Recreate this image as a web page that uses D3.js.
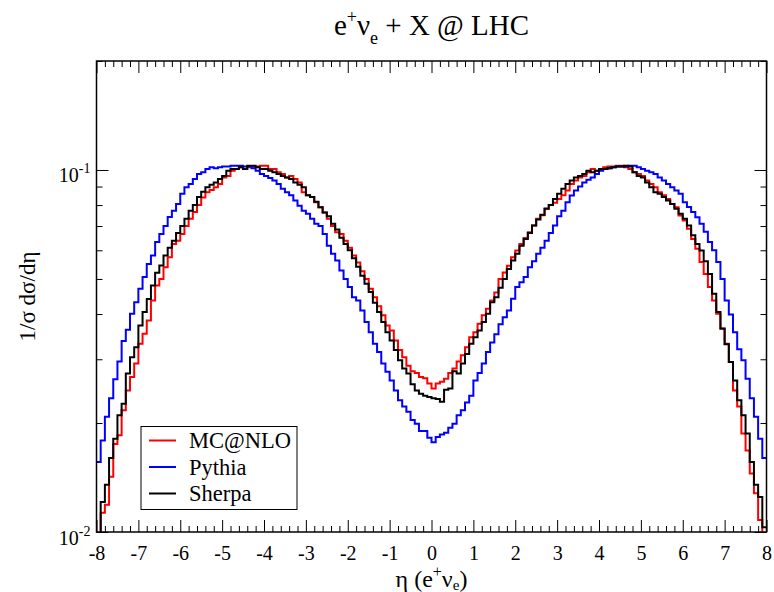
<!DOCTYPE html>
<html lang="en">
<head>
<meta charset="UTF-8">
<title>e+ ve + X @ LHC</title>
<script src="https://d3js.org/d3.v7.min.js"></script>
<style>
  body { margin: 0; background: #fff; }
  svg { display: block; }
  .serif { font-family: 'Liberation Serif', 'Times New Roman', 'DejaVu Serif', serif; }
</style>
</head>
<body>
<svg width="774" height="592"></svg>
<script>
// 160 bins of width 0.1 from eta = -8 to 8
const binStart = -8, binWidth = 0.1;

const mcnlo = [
  0.0092, 0.0113, 0.0119, 0.0142, 0.0175, 0.0185, 0.0217, 0.0246, 0.0268, 0.0292,
  0.0331, 0.0353, 0.0384, 0.0436, 0.0480, 0.0500, 0.0539, 0.0574, 0.0625, 0.0638,
  0.0666, 0.0700, 0.0733, 0.0765, 0.0800, 0.0840, 0.0868, 0.0880, 0.0896, 0.0915,
  0.0954, 0.0963, 0.0995, 0.1006, 0.1017, 0.1006, 0.1017, 0.1022, 0.1022, 0.1028,
  0.1028, 0.1006, 0.1006, 0.0985, 0.0975, 0.0954, 0.0963, 0.0944, 0.0924, 0.0868,
  0.0851, 0.0842, 0.0815, 0.0789, 0.0763, 0.0733, 0.0700, 0.0673, 0.0666, 0.0638,
  0.0610, 0.0580, 0.0555, 0.0525, 0.0500, 0.0470, 0.0445, 0.0420, 0.0397, 0.0372,
  0.0360, 0.0338, 0.0318, 0.0304, 0.0288, 0.0278, 0.0275, 0.0268, 0.0266, 0.0257,
  0.0249, 0.0257, 0.0260, 0.0265, 0.0275, 0.0283, 0.0296, 0.0308, 0.0324, 0.0345,
  0.0356, 0.0376, 0.0397, 0.0414, 0.0436, 0.0459, 0.0500, 0.0521, 0.0544, 0.0574,
  0.0599, 0.0625, 0.0649, 0.0673, 0.0703, 0.0733, 0.0750, 0.0780, 0.0800, 0.0812,
  0.0832, 0.0851, 0.0877, 0.0915, 0.0935, 0.0954, 0.0963, 0.0985, 0.1006, 0.0995,
  0.1006, 0.1017, 0.1022, 0.1022, 0.1028, 0.1028, 0.1017, 0.1006, 0.0985, 0.0975,
  0.0963, 0.0935, 0.0915, 0.0896, 0.0868, 0.0851, 0.0832, 0.0806, 0.0789, 0.0749,
  0.0725, 0.0688, 0.0645, 0.0606, 0.0557, 0.0516, 0.0475, 0.0436, 0.0401, 0.0364,
  0.0331, 0.0295, 0.0246, 0.0222, 0.0187, 0.0168, 0.0145, 0.0128, 0.0108, 0.0092
];

const pythia = [
  0.0156, 0.0179, 0.0208, 0.0234, 0.0264, 0.0296, 0.0337, 0.0362, 0.0401, 0.0431,
  0.0470, 0.0506, 0.0550, 0.0580, 0.0632, 0.0666, 0.0700, 0.0742, 0.0772, 0.0806,
  0.0860, 0.0896, 0.0915, 0.0944, 0.0975, 0.0985, 0.1006, 0.1017, 0.1011, 0.1017,
  0.1022, 0.1022, 0.1028, 0.1028, 0.1028, 0.1022, 0.1022, 0.1011, 0.0995, 0.0975,
  0.0963, 0.0950, 0.0935, 0.0915, 0.0887, 0.0868, 0.0851, 0.0823, 0.0796, 0.0772,
  0.0757, 0.0733, 0.0710, 0.0700, 0.0666, 0.0618, 0.0587, 0.0562, 0.0528, 0.0500,
  0.0475, 0.0445, 0.0436, 0.0409, 0.0380, 0.0356, 0.0331, 0.0314, 0.0292, 0.0277,
  0.0262, 0.0246, 0.0231, 0.0222, 0.0215, 0.0204, 0.0199, 0.0190, 0.0190, 0.0182,
  0.0177, 0.0183, 0.0186, 0.0188, 0.0194, 0.0199, 0.0210, 0.0217, 0.0228, 0.0238,
  0.0262, 0.0275, 0.0292, 0.0314, 0.0334, 0.0352, 0.0375, 0.0392, 0.0409, 0.0441,
  0.0475, 0.0490, 0.0506, 0.0539, 0.0560, 0.0587, 0.0610, 0.0638, 0.0670, 0.0703,
  0.0745, 0.0772, 0.0815, 0.0850, 0.0877, 0.0900, 0.0924, 0.0940, 0.0954, 0.0975,
  0.0995, 0.1006, 0.1011, 0.1017, 0.1022, 0.1022, 0.1022, 0.1028, 0.1028, 0.1017,
  0.1006, 0.0995, 0.0985, 0.0975, 0.0954, 0.0935, 0.0915, 0.0896, 0.0877, 0.0860,
  0.0815, 0.0790, 0.0765, 0.0740, 0.0710, 0.0675, 0.0632, 0.0600, 0.0557, 0.0500,
  0.0436, 0.0399, 0.0356, 0.0320, 0.0298, 0.0265, 0.0234, 0.0208, 0.0181, 0.0160
];

const sherpa = [
  0.0092, 0.0121, 0.0135, 0.0160, 0.0181, 0.0210, 0.0226, 0.0274, 0.0304, 0.0324,
  0.0372, 0.0405, 0.0440, 0.0480, 0.0520, 0.0545, 0.0580, 0.0610, 0.0638, 0.0670,
  0.0700, 0.0733, 0.0772, 0.0800, 0.0842, 0.0870, 0.0896, 0.0910, 0.0924, 0.0944,
  0.0963, 0.0995, 0.1006, 0.1006, 0.1017, 0.1006, 0.1028, 0.1028, 0.1017, 0.1006,
  0.1006, 0.0995, 0.0985, 0.0975, 0.0963, 0.0954, 0.0944, 0.0924, 0.0910, 0.0896,
  0.0851, 0.0842, 0.0817, 0.0789, 0.0763, 0.0745, 0.0710, 0.0685, 0.0650, 0.0625,
  0.0600, 0.0570, 0.0540, 0.0510, 0.0485, 0.0460, 0.0430, 0.0405, 0.0380, 0.0356,
  0.0338, 0.0318, 0.0298, 0.0283, 0.0274, 0.0256, 0.0246, 0.0241, 0.0238, 0.0236,
  0.0234, 0.0233, 0.0229, 0.0247, 0.0249, 0.0278, 0.0274, 0.0292, 0.0310, 0.0331,
  0.0345, 0.0360, 0.0380, 0.0401, 0.0431, 0.0445, 0.0473, 0.0500, 0.0533, 0.0562,
  0.0587, 0.0618, 0.0645, 0.0670, 0.0703, 0.0730, 0.0752, 0.0783, 0.0800, 0.0832,
  0.0860, 0.0887, 0.0915, 0.0935, 0.0954, 0.0963, 0.0975, 0.0995, 0.0985, 0.0995,
  0.1006, 0.1006, 0.1011, 0.1017, 0.1022, 0.1022, 0.1028, 0.1022, 0.0985, 0.0963,
  0.0954, 0.0924, 0.0896, 0.0868, 0.0860, 0.0842, 0.0823, 0.0806, 0.0781, 0.0757,
  0.0733, 0.0703, 0.0660, 0.0625, 0.0599, 0.0560, 0.0516, 0.0455, 0.0405, 0.0365,
  0.0330, 0.0295, 0.0262, 0.0231, 0.0210, 0.0187, 0.0156, 0.0135, 0.0125, 0.0103
];

const seriesNames = ["MC@NLO", "Pythia", "Sherpa"];
const seriesColors = ["#ff0000", "#0000ff", "#000000"];
const seriesData = [mcnlo, pythia, sherpa];

const xMajor = [-8, -7, -6, -5, -4, -3, -2, -1, 0, 1, 2, 3, 4, 5, 6, 7, 8];
const yMajor = [0.01, 0.1];
const yMajorExp = ["-2", "-1"];
const yMinor = [0.02, 0.03, 0.04, 0.05, 0.06, 0.07, 0.08, 0.09, 0.2];

const svg = d3.select("svg"),
      margin = {top: 61, right: 7.5, bottom: 60, left: 96.5},
      width = +svg.attr("width") - margin.left - margin.right,
      height = +svg.attr("height") - margin.top - margin.bottom;

const g = svg.append("g").attr("transform", `translate(${margin.left},${margin.top})`);

const x = d3.scaleLinear().domain([-8, 8]).range([0, width]);
const y = d3.scaleLog().domain([0.01, 0.2]).range([height, 0]);

svg.append("defs").append("clipPath").attr("id", "plot-clip")
  .append("rect").attr("width", width).attr("height", height);

// histograms
const line = d3.line()
  .curve(d3.curveStepAfter)
  .x(d => x(d[0]))
  .y(d => y(Math.max(d[1], 0.005)));

seriesData.forEach((vals, k) => {
  const pts = vals.map((v, i) => [binStart + i * binWidth, v]);
  pts.push([binStart + vals.length * binWidth, vals[vals.length - 1]]);
  g.append("path")
    .datum(pts)
    .attr("clip-path", "url(#plot-clip)")
    .attr("fill", "none")
    .attr("stroke", seriesColors[k])
    .attr("stroke-width", 2)
    .attr("d", line);
});

// axes with inward ticks
const xMinor = d3.range(-8, 8.001, 0.2).filter(v => Math.abs(v - Math.round(v)) > 0.01);

function drawAxis(axis, transform) {
  const a = g.append("g").attr("transform", transform).call(axis);
  a.attr("font-family", null);
  a.select(".domain").remove();
  a.selectAll("line").attr("stroke", "#000").attr("stroke-width", 1);
  return a;
}

const xb = drawAxis(d3.axisBottom(x).tickValues(xMajor).tickSize(-12).tickPadding(14)
  .tickFormat(d => d), `translate(0,${height})`);
xb.selectAll("text").attr("class", "serif").attr("font-size", 20).attr("fill", "#000");
drawAxis(d3.axisBottom(x).tickValues(xMinor).tickSize(-6).tickFormat(""), `translate(0,${height})`);
drawAxis(d3.axisTop(x).tickValues(xMajor).tickSize(-12).tickFormat(""), "translate(0,0)");
drawAxis(d3.axisTop(x).tickValues(xMinor).tickSize(-6).tickFormat(""), "translate(0,0)");

drawAxis(d3.axisLeft(y).tickValues(yMajor).tickSize(-12).tickFormat(""), "translate(0,0)");
drawAxis(d3.axisLeft(y).tickValues(yMinor).tickSize(-6).tickFormat(""), "translate(0,0)");
drawAxis(d3.axisRight(y).tickValues(yMajor).tickSize(-12).tickFormat(""), `translate(${width},0)`);
drawAxis(d3.axisRight(y).tickValues(yMinor).tickSize(-6).tickFormat(""), `translate(${width},0)`);

// y tick labels 10^n
yMajor.forEach((v, i) => {
  const t = g.append("text")
    .attr("class", "serif")
    .attr("x", -6)
    .attr("y", y(v) + 12.5)
    .attr("text-anchor", "end")
    .attr("font-size", 20);
  t.append("tspan").text("10");
  t.append("tspan").attr("dy", -9).attr("font-size", 14).text(yMajorExp[i]);
});

// frame
g.append("rect")
  .attr("width", width).attr("height", height)
  .attr("fill", "none").attr("stroke", "#000").attr("stroke-width", 1.5);

// title
const title = svg.append("text")
  .attr("class", "serif")
  .attr("x", margin.left + width / 2)
  .attr("y", 35)
  .attr("text-anchor", "middle")
  .attr("font-size", 29);
title.append("tspan").text("e");
title.append("tspan").attr("dy", -12).attr("font-size", 18).text("+");
title.append("tspan").attr("dy", 12).text("ν");
title.append("tspan").attr("dy", 9).attr("font-size", 18).text("e");
title.append("tspan").attr("dy", -9).text(" + X @ LHC");

// x label
const xl = svg.append("text")
  .attr("class", "serif")
  .attr("x", margin.left + width / 2)
  .attr("y", 587)
  .attr("text-anchor", "middle")
  .attr("font-size", 24);
xl.append("tspan").text("η (e");
xl.append("tspan").attr("dy", -10).attr("font-size", 16).text("+");
xl.append("tspan").attr("dy", 10).text("ν");
xl.append("tspan").attr("dy", 3).attr("font-size", 15).text("e");
xl.append("tspan").attr("dy", -3).text(")");

// y label
svg.append("text")
  .attr("class", "serif")
  .attr("transform", `translate(35,${margin.top + height / 2}) rotate(-90)`)
  .attr("text-anchor", "middle")
  .attr("font-size", 23)
  .text("1/σ dσ/dη");

// legend
const leg = svg.append("g").attr("transform", "translate(141,426.5)");
leg.append("rect").attr("width", 156).attr("height", 83)
  .attr("fill", "#fff").attr("stroke", "#000").attr("stroke-width", 1);
seriesNames.forEach((name, k) => {
  const yy = 14 + k * 26.5;
  leg.append("line").attr("x1", 8).attr("x2", 35).attr("y1", yy).attr("y2", yy)
    .attr("stroke", seriesColors[k]).attr("stroke-width", 2);
  leg.append("text").attr("class", "serif").attr("x", 48).attr("y", yy + 7.5)
    .attr("font-size", 22.5).text(name);
});
</script>
</body>
</html>
